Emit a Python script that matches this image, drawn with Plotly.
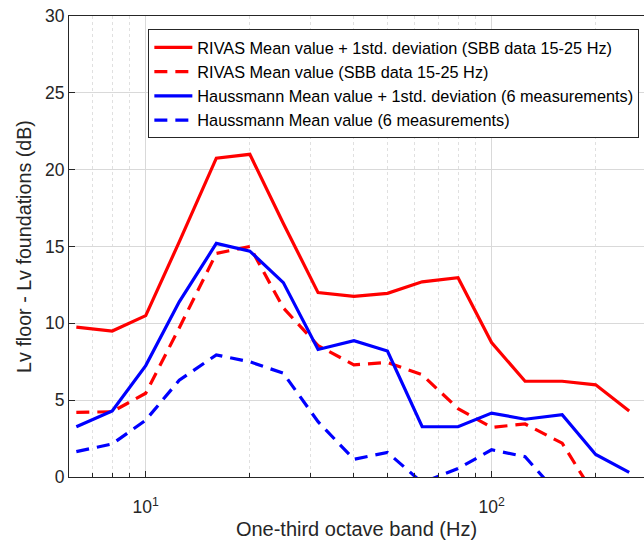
import plotly.graph_objects as go
import math

freqs = [6.3, 8, 10, 12.5, 16, 20, 25, 31.5, 40, 50, 63, 80, 100, 125, 160, 200, 250]

rivas_mean_std = [9.75, 9.5, 10.5, 15.3, 20.75, 21.0, 16.5, 12.0, 11.75, 11.95, 12.7, 12.97, 8.75, 6.23, 6.23, 6.0, 4.3]
rivas_mean = [4.2, 4.25, 5.45, 9.7, 14.55, 15.0, 11.0, 8.55, 7.3, 7.45, 6.65, 4.45, 3.23, 3.45, 2.2, -1.3, -1.8]
hauss_mean_std = [3.27, 4.3, 7.25, 11.4, 15.2, 14.7, 12.65, 8.3, 8.87, 8.2, 3.27, 3.27, 4.16, 3.76, 4.05, 1.47, 0.3]
hauss_mean = [1.65, 2.15, 3.7, 6.3, 7.95, 7.5, 6.75, 3.6, 1.15, 1.6, -0.37, 0.55, 1.77, 1.32, -1.4, -1.8, -2.2]

names = [
    "RIVAS Mean value + 1std. deviation (SBB data 15-25 Hz)",
    "RIVAS Mean value (SBB data 15-25 Hz)",
    "Haussmann Mean value + 1std. deviation (6 measurements)",
    "Haussmann Mean value (6 measurements)",
]

x_ticks = [10, 100]
x_tick_text = ["10<sup>1</sup>", "10<sup>2</sup>"]
x_minor = [7, 8, 9, 20, 30, 40, 50, 60, 70, 80, 90, 200]
y_ticks = [0, 5, 10, 15, 20, 25, 30]

series = [
    (rivas_mean_std, "#ff0000", "solid"),
    (rivas_mean, "#ff0000", "13px,8px"),
    (hauss_mean_std, "#0000ff", "solid"),
    (hauss_mean, "#0000ff", "13px,8px"),
]

fig = go.Figure()
for (vals, col, dash), nm in zip(series, names):
    fig.add_trace(go.Scatter(
        x=freqs, y=vals, mode="lines", name=nm,
        line=dict(color=col, width=3.2, dash=dash),
    ))

font_family = "Liberation Sans, Arial, sans-serif"

fig.update_layout(
    width=644, height=540,
    margin=dict(l=69, r=0, t=16, b=63),
    paper_bgcolor="white", plot_bgcolor="white",
    font=dict(family=font_family, color="#262626", size=17),
    showlegend=True,
    legend=dict(
        x=0.138, y=0.971, xanchor="left", yanchor="top",
        bgcolor="white", bordercolor="#262626", borderwidth=1,
        itemwidth=38,
        font=dict(size=16.3, color="black", family=font_family),
    ),
    xaxis=dict(
        type="log",
        range=[math.log10(6), math.log10(275.9)],
        tickmode="array", tickvals=x_ticks, ticktext=x_tick_text,
        ticks="inside", ticklen=6, tickcolor="#262626",
        ticklabelstandoff=14,
        showgrid=True, gridcolor="#d9d9d9", gridwidth=1,
        minor=dict(tickmode="array", tickvals=x_minor, ticks="inside", ticklen=4,
                   tickcolor="#262626", showgrid=True, gridcolor="#e0e0e0",
                   griddash="dot", gridwidth=1),
        showline=True, linecolor="#262626", linewidth=1, mirror=True,
        zeroline=False,
        title=dict(text="One-third octave band (Hz)", font=dict(size=20), standoff=5),
        tickfont=dict(size=17.5),
    ),
    yaxis=dict(
        range=[0, 30],
        tickmode="array", tickvals=y_ticks,
        ticks="inside", ticklen=6, tickcolor="#262626",
        showgrid=True, gridcolor="#d9d9d9", gridwidth=1,
        showline=True, linecolor="#262626", linewidth=1, mirror=False,
        zeroline=False,
        title=dict(text="Lv floor - Lv foundations (dB)", font=dict(size=19.7), standoff=8),
        tickfont=dict(size=17.5),
    ),
)

fig.write_html("out.html")
